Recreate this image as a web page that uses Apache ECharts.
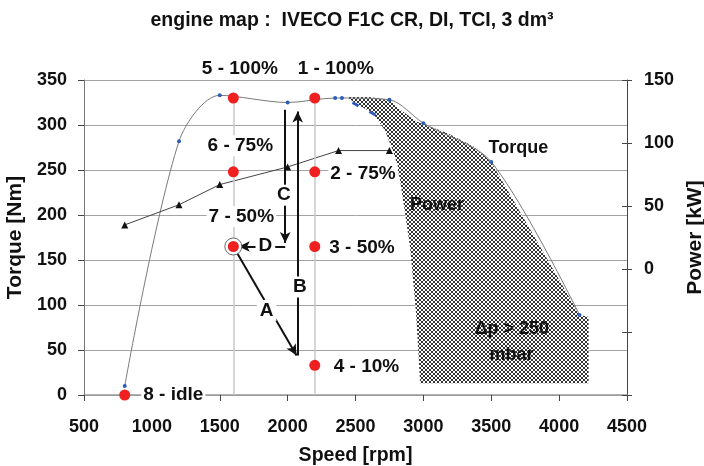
<!DOCTYPE html>
<html><head><meta charset="utf-8">
<script src="https://cdn.jsdelivr.net/npm/echarts@6/dist/echarts.min.js"></script>
<style>html,body{margin:0;padding:0;background:#fff}#c{width:704px;height:466px}</style>
</head><body><div id="c"></div>
<script>
// ---- data ----
const speedMin = 500, speedMax = 4500, speedStep = 500;
const torqueMin = 0, torqueMax = 350, torqueStep = 50;
const powerMin = -100, powerMax = 150, powerStep = 50;

const torqueRpm = [800, 1200, 1500, 2000, 2350, 2400, 2750, 3000, 3500, 4150];
const torqueNm  = [10, 282, 333, 325, 330, 330, 328, 302, 259, 89];

const limitRpm = [2500, 2625];
const limitNm  = [323, 313];

const powerRpm = [800, 1200, 1500, 2000, 2375, 2750];
const powerKw  = [35, 51, 67, 81, 94, 94];

const opRpm   = [2200, 2200, 2200, 2200, 1600, 1600, 1600, 800];
const opNm    = [330, 248, 165, 33, 330, 248, 165, 0];
const opNames = ['1 - 100%', '2 - 75%', '3 - 50%', '4 - 10%', '5 - 100%', '6 - 75%', '7 - 50%', '8 - idle'];

const hatchRpm = [2435, 2600, 2750, 2830, 2950, 3175, 3370, 3500, 4150, 4217, 4217, 2976, 2961, 2946, 2924, 2902, 2865, 2828, 2791, 2718, 2629, 2511];
const hatchNm  = [331, 331, 328, 317, 304, 291, 276, 259, 89, 87, 13, 13, 53, 91, 128, 164, 202, 239, 265, 294, 313, 323];

const arrowNames = ['A', 'B', 'C', 'D'];
const arrowFrom  = [[1600, 165], [2074, 44], [1982, 317], [1982, 165]];
const arrowTo    = [[2066, 44], [2074, 315], [1982, 169], [1640, 165]];

const dropRpm = [1600, 2200];
const dropTop = 330;

// ---- styling ----
const FONT = 'Liberation Sans, Arial, sans-serif';
const TXT = '#111';

const pat = document.createElement('canvas');
pat.width = 4; pat.height = 4;
(function(){
  const g = pat.getContext('2d');
  g.fillStyle = '#fff'; g.fillRect(0,0,4,4);
  g.fillStyle = '#333';
  [[0,0],[1,1],[2,2],[3,3],[3,0],[2,1],[1,2],[0,3]].forEach(p => g.fillRect(p[0],p[1],1,1));
})();

// label layout for operating points (style only)
const opLabelLayout = [
  {align:'center', off:[21,-29]},
  {align:'left',   off:[13.5,2]},
  {align:'left',   off:[12.5,1]},
  {align:'left',   off:[17,1]},
  {align:'center', off:[6.5,-29]},
  {align:'center', off:[7,-26]},
  {align:'center', off:[8,-30]},
  {align:'left',   off:[16.5,0]}
];
const arrowLabelPos = [[1845, 94], [2090, 120], [1973, 222], [1836, 165.5]];

const labelBase = {fontFamily: FONT, fontWeight: 'bold', color: TXT, opacity: 1};
const hidden = {color: 'rgba(0,0,0,0)', opacity: 1};

const chart = echarts.init(document.getElementById('c'), null, {renderer: 'canvas'});
const option = {
  animation: false,
  backgroundColor: '#fff',
  title: {
    text: 'engine map :  IVECO F1C CR, DI, TCI, 3 dm³',
    left: 'center', top: 6,
    textStyle: {fontFamily: FONT, fontWeight: 'bold', fontSize: 19.5, color: TXT}
  },
  grid: {left: 84, right: 77, top: 80, bottom: 71, containLabel: false, outerBoundsMode: 'none'},
  xAxis: {
    type: 'value', min: speedMin, max: speedMax, interval: speedStep,
    name: 'Speed [rpm]', nameLocation: 'middle', nameGap: 51,
    nameTextStyle: {fontFamily: FONT, fontWeight: 'bold', fontSize: 19.5, color: TXT},
    axisLine: {show: true, onZero: false, lineStyle: {color: '#999', width: 1.5}},
    axisTick: {show: true, length: 6, lineStyle: {color: '#444'}},
    axisLabel: {margin: 23, fontFamily: FONT, fontWeight: 'bold', fontSize: 18, color: TXT,
      formatter: v => String(v)},
    splitLine: {show: false}
  },
  yAxis: [
    {
      type: 'value', min: torqueMin, max: torqueMax, interval: torqueStep,
      name: 'Torque [Nm]', nameLocation: 'middle', nameGap: 56,
      nameTextStyle: {fontFamily: FONT, fontWeight: 'bold', fontSize: 21, color: TXT},
      axisLine: {show: true, lineStyle: {color: '#777', width: 1}},
      axisTick: {show: true, length: 6, lineStyle: {color: '#444'}},
      axisLabel: {margin: 17, fontFamily: FONT, fontWeight: 'bold', fontSize: 18, color: TXT,
        formatter: v => String(v)},
      splitLine: {show: true, lineStyle: {color: '#a3a3a3', width: 1}}
    },
    {
      type: 'value', position: 'right', min: powerMin, max: powerMax, interval: powerStep,
      name: 'Power [kW]', nameLocation: 'middle', nameGap: 54, nameRotate: 90,
      nameTextStyle: {fontFamily: FONT, fontWeight: 'bold', fontSize: 21, color: TXT},
      axisLine: {show: true, lineStyle: {color: '#444', width: 1}},
      axisTick: {show: true, length: 5, lineStyle: {color: '#444'}},
      axisLabel: {margin: 17, fontFamily: FONT, fontWeight: 'bold', fontSize: 18, color: TXT,
        formatter: v => (v < 0 ? '' : String(v))},
      splitLine: {show: false}
    },
    {
      type: 'value', position: 'right', min: powerMin, max: powerMax, interval: powerStep,
      axisLine: {show: false},
      axisTick: {show: true, inside: true, length: 5, lineStyle: {color: '#444'}},
      axisLabel: {show: false},
      splitLine: {show: false}
    }
  ],
  series: [
    {
      type: 'custom', name: 'hatch', silent: true, z: 2,
      xAxisIndex: 0, yAxisIndex: 0,
      renderItem: function(params, api) {
        const pts = hatchRpm.map((r, i) => api.coord([r, hatchNm[i]]));
        return {type: 'polygon', shape: {points: pts},
          style: {fill: {image: pat, repeat: 'repeat'}, stroke: null}};
      },
      data: [[hatchRpm[0], hatchNm[0]]]
    },
    {
      type: 'line', name: 'drop', silent: true, z: 1,
      data: [],
      markLine: {
        silent: true, symbol: ['none', 'none'], animation: false,
        label: {show: false},
        lineStyle: {color: '#c8c8c8', width: 1.5, type: 'solid'},
        data: dropRpm.map(r => [{coord: [r, 0]}, {coord: [r, dropTop]}])
      }
    },
    {
      type: 'line', name: 'Torque', z: 4, smooth: 0.3,
      data: torqueRpm.map((r, i) => [r, torqueNm[i]]),
      symbol: 'circle', symbolSize: 4, showSymbol: true,
      itemStyle: {color: '#2f5cb8', borderWidth: 0, opacity: 1},
      lineStyle: {color: '#7a7a7a', width: 1}
    },
    {
      type: 'scatter', name: 'limit', z: 4,
      data: limitRpm.map((r, i) => [r, limitNm[i]]),
      symbol: 'rect', symbolSize: [7, 3], symbolRotate: -30,
      itemStyle: {color: '#2f5cb8', opacity: 1}
    },
    {
      type: 'line', name: 'Power', z: 4, yAxisIndex: 1,
      data: powerRpm.map((r, i) => [r, powerKw[i]]),
      symbol: 'triangle', symbolSize: 7,
      itemStyle: {color: '#111', opacity: 1},
      lineStyle: {color: '#444', width: 1}
    },
    {
      type: 'scatter', name: 'ring', z: 5,
      data: [[opRpm[6], opNm[6]]],
      symbol: 'circle', symbolSize: 17,
      itemStyle: {color: '#fff', borderColor: '#666', borderWidth: 1, opacity: 1}
    },
    {
      type: 'line', name: 'arrows', z: 5,
      data: [],
      markLine: {
        silent: true, animation: false,
        symbol: ['none', 'arrow'], symbolSize: [8, 11],
        label: {show: false},
        lineStyle: {color: '#111', width: 2, type: 'solid'},
        data: arrowFrom.map((f, i) => [{coord: f}, {coord: arrowTo[i]}])
      }
    },
    {
      type: 'scatter', name: 'points', z: 6,
      data: opRpm.map((r, i) => ({
        value: [r, opNm[i]],
        label: Object.assign({
          show: true, position: 'inside', formatter: opNames[i],
          align: opLabelLayout[i].align, verticalAlign: 'middle',
          offset: opLabelLayout[i].off, fontSize: 19,
          backgroundColor: '#fff', padding: [1, 2]
        }, labelBase)
      })),
      symbol: 'circle', symbolSize: 11,
      itemStyle: {color: '#f02020', opacity: 1}
    },
    {
      type: 'scatter', name: 'arrowLabels', z: 7, symbol: 'circle', symbolSize: 1,
      itemStyle: hidden,
      data: arrowNames.map((n, i) => ({
        value: arrowLabelPos[i],
        label: Object.assign({show: true, position: 'inside', formatter: n,
          fontSize: 19, backgroundColor: '#fff', padding: [1, 3]}, labelBase)
      }))
    },
    {
      type: 'scatter', name: 'notes', z: 7, symbol: 'circle', symbolSize: 1,
      itemStyle: hidden,
      data: [
        {value: [3480, 274], label: Object.assign({show: true, position: 'inside', align: 'left', formatter: 'Torque', fontSize: 18}, labelBase)},
        {value: [3100, 211], label: Object.assign({show: true, position: 'inside', formatter: 'Power', fontSize: 18}, labelBase)},
        {value: [3652, 73],  label: Object.assign({show: true, position: 'inside', formatter: 'Δp > 250', fontSize: 18}, labelBase)},
        {value: [3649, 44],  label: Object.assign({show: true, position: 'inside', formatter: 'mbar', fontSize: 18}, labelBase)}
      ]
    }
  ]
};
chart.setOption(option);
</script></body></html>
